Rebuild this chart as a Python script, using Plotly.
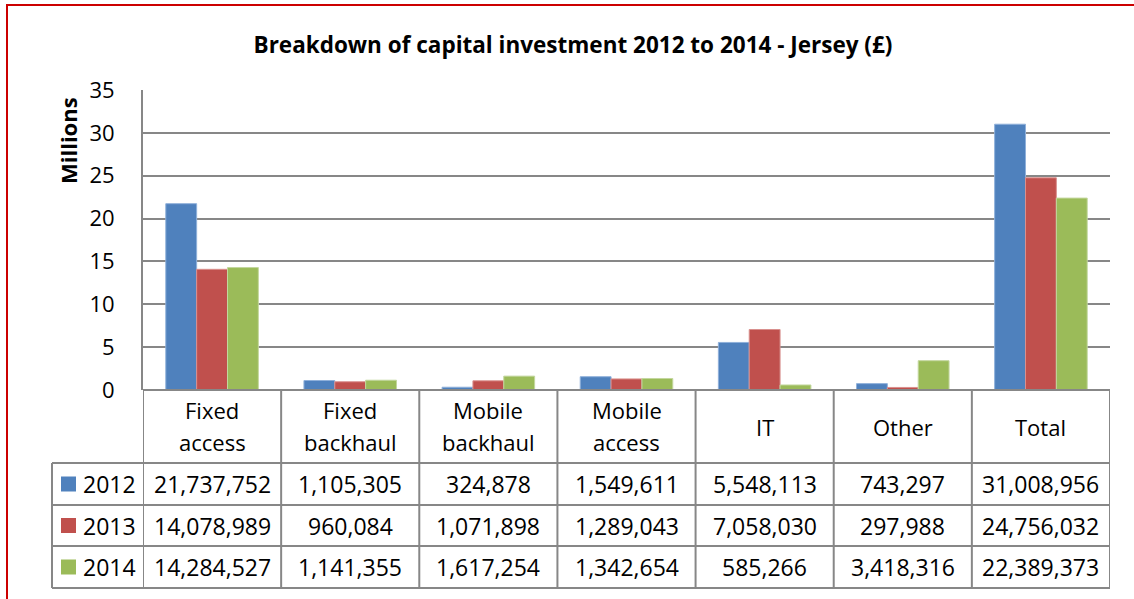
import plotly.graph_objects as go

categories = ["Fixed access", "Fixed backhaul", "Mobile backhaul", "Mobile access", "IT", "Other", "Total"]
years = ["2012", "2013", "2014"]
values_2012 = [21737752, 1105305, 324878, 1549611, 5548113, 743297, 31008956]
values_2013 = [14078989, 960084, 1071898, 1289043, 7058030, 297988, 24756032]
values_2014 = [14284527, 1141355, 1617254, 1342654, 585266, 3418316, 22389373]
series = [values_2012, values_2013, values_2014]
colors = ["#4F81BD", "#C0504D", "#9BBB59"]
outline = ["#8FB0DA", "#D9908E", "#C3D79E"]
y_ticks = [0, 5, 10, 15, 20, 25, 30, 35]

FONT = "Open Sans"
W, H = 1134, 599
L, R, T, B = 143, 1110, 90, 390  # plot area pixel bounds


def px_x(px):
    return (px - L) / (R - L)


def px_y(py):
    return (B - py) / (B - T)


fig = go.Figure()
for yr, vals, c, oc in zip(years, series, colors, outline):
    fig.add_trace(go.Bar(
        x=categories, y=[v / 1e6 for v in vals], name=yr,
        marker=dict(color=c, line=dict(color=oc, width=1)),
        hoverinfo="skip",
    ))

grid_col = "#878787"
shapes = []
annotations = []

# table geometry (pixels)
header_bottom = 463
row_lines = [505, 546, 588]
legend_left = 52
line_w = 2
TXT = 23

# horizontal table lines
shapes.append(dict(type="line", xref="paper", yref="paper", x0=0, x1=1, y0=0, y1=0,
                   line=dict(color=grid_col, width=line_w)))
for py in [header_bottom] + row_lines:
    shapes.append(dict(type="line", xref="paper", yref="paper",
                       x0=px_x(legend_left), x1=1, y0=px_y(py), y1=px_y(py),
                       line=dict(color=grid_col, width=line_w)))
# vertical table lines
for i in range(len(categories) + 1):
    shapes.append(dict(type="line", xref="x", yref="paper", x0=i - 0.5, x1=i - 0.5,
                       y0=0, y1=px_y(row_lines[-1]),
                       line=dict(color=grid_col, width=line_w)))
shapes.append(dict(type="line", xref="paper", yref="paper", x0=px_x(legend_left), x1=px_x(legend_left),
                   y0=px_y(header_bottom), y1=px_y(row_lines[-1]),
                   line=dict(color=grid_col, width=line_w)))

# category header labels (one annotation per line to match the spacing)
for cat in categories:
    parts = cat.split(" ")
    if len(parts) == 1:
        centers = [(B + header_bottom) / 2]
    else:
        centers = [410, 442]
    for part, cy in zip(parts, centers):
        annotations.append(dict(x=cat, xref="x", yref="paper", y=px_y(cy),
                                text=part, showarrow=False,
                                font=dict(family=FONT, size=22, color="#000"),
                                xanchor="center", yanchor="middle"))

# data rows
row_tops = [header_bottom] + row_lines[:-1]
for r, (yr, vals, c) in enumerate(zip(years, series, colors)):
    top = row_tops[r]
    bot = row_lines[r]
    yc = px_y((top + bot) / 2)
    for cat, v in zip(categories, vals):
        annotations.append(dict(x=cat, xref="x", yref="paper", y=yc, text=f"{v:,}",
                                showarrow=False, font=dict(family=FONT, size=TXT, color="#000"),
                                xanchor="center", yanchor="middle"))
    # legend key
    mid = (top + bot) / 2
    shapes.append(dict(type="rect", xref="paper", yref="paper",
                       x0=px_x(61), x1=px_x(76), y0=px_y(mid - 7.5), y1=px_y(mid + 7.5),
                       fillcolor=c, line=dict(width=0)))
    annotations.append(dict(x=px_x(81), xref="paper", yref="paper", y=yc, text=yr,
                            showarrow=False, font=dict(family=FONT, size=TXT, color="#000"),
                            xanchor="left", yanchor="middle"))

# y-axis title
annotations.append(dict(x=px_x(68), y=px_y(141), xref="paper", yref="paper", text="<b>Millions</b>",
                        textangle=-90, showarrow=False,
                        font=dict(family=FONT, size=22, color="#000"),
                        xanchor="center", yanchor="middle"))

# red outer border
shapes.append(dict(type="rect", xref="paper", yref="paper",
                   x0=px_x(7), x1=px_x(1145), y0=px_y(610), y1=px_y(5),
                   line=dict(color="#CC0000", width=2), fillcolor="rgba(0,0,0,0)"))

fig.update_layout(
    width=W, height=H,
    margin=dict(l=L, r=W - R, t=T, b=H - B, pad=0),
    paper_bgcolor="white", plot_bgcolor="white",
    title=dict(text="<b>Breakdown of capital investment 2012 to 2014 - Jersey (£)</b>",
               x=(573) / W, xanchor="center", y=1 - 45 / H, yanchor="middle",
               font=dict(family=FONT, size=22.5, color="#000")),
    barmode="group", bargap=0.33, bargroupgap=0,
    showlegend=False,
    shapes=shapes, annotations=annotations,
    xaxis=dict(type="category", range=[-0.5, len(categories) - 0.5], showticklabels=False,
               showgrid=False, zeroline=False, showline=False, ticks=""),
    yaxis=dict(range=[0, 35], tickvals=y_ticks, showgrid=True, gridcolor=grid_col, gridwidth=2,
               zeroline=False, showline=True, linecolor=grid_col, linewidth=2, ticks="",
               ticklabelstandoff=22,
               tickfont=dict(family=FONT, size=22, color="#000")),
    font=dict(family=FONT),
)

fig.write_html("out.html", config={"displayModeBar": False},
               post_script="document.body.style.margin='0';document.body.style.overflow='hidden';")
